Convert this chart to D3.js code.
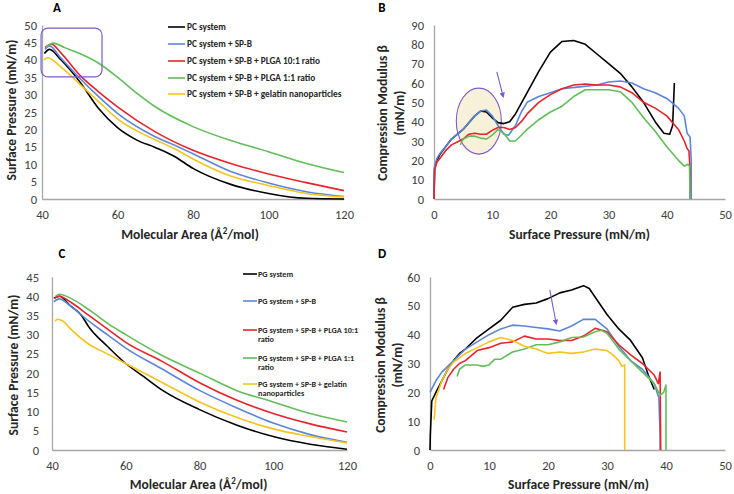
<!DOCTYPE html>
<html>
<head>
<meta charset="utf-8">
<script src="https://cdn.jsdelivr.net/npm/d3@7"></script>
<style>
  body { margin: 0; background: #fff; }
  svg { font-family: Carlito, Lato, "Open Sans", sans-serif; }
</style>
</head>
<body>
<svg id="chart" width="734" height="494"></svg>
<script>
// ---- colours and series names
const seriesColors = ["#000000", "#5b87d6", "#e8232b", "#62bd5a", "#f7c31c"];
const pcNames = ["PC system", "PC system + SP-B", "PC system + SP-B + PLGA 10:1 ratio",
                 "PC system + SP-B + PLGA 1:1 ratio", "PC system + SP-B + gelatin nanoparticles"];
const pgNames = [["PG system"], ["PG system + SP-B"], ["PG system + SP-B + PLGA 10:1", "ratio"],
                 ["PG system + SP-B + PLGA 1:1", "ratio"], ["PG system + SP-B + gelatin", "nanoparticles"]];

// ---- tick values
const areaTicks = [40, 60, 80, 100, 120];
const pressureTicks = [0, 10, 20, 30, 40, 50];
const aYTicks = [0, 5, 10, 15, 20, 25, 30, 35, 40, 45, 50];
const bYTicks = [0, 10, 20, 30, 40, 50, 60, 70, 80, 90];
const cYTicks = [0, 5, 10, 15, 20, 25, 30, 35, 40, 45];
const dYTicks = [0, 10, 20, 30, 40, 50, 60];

// ---- panel A : PC isotherms [area, pressure]
const pcSystem = [[40.6,41.8],[42,43],[45,40],[50,33.7],[55,26],[60,20.5],[65,17],[70,14.8],[75,12.3],[80,8.8],[90,4.2],[100,1.6],[110,0.2],[120,0]];
const pcSpb = [[40.8,43],[42,44],[45,40.5],[50,34.7],[55,29.4],[60,24.6],[70,17.9],[75,15.5],[80,13],[90,7.9],[100,4.6],[110,2.1],[120,0.7]];
const pcPlga10 = [[40.8,43.5],[42.5,44.5],[45,42],[50,35.6],[55,30.8],[60,26.5],[70,19.3],[80,14],[90,10.2],[100,7.2],[110,4.7],[120,2.4]];
const pcPlga1 = [[41,43.5],[43,44.8],[46,43.5],[50,41.8],[55,39],[60,35],[65,30.5],[70,26.5],[80,20.8],[90,16.8],[100,13.6],[110,10.2],[120,7.6]];
const pcGelatin = [[40.5,40],[41.5,40.6],[45,38],[50,33],[55,28],[60,23],[70,17],[75,14.5],[80,11.5],[90,6.6],[100,3.9],[110,1.6],[120,0.6]];

// ---- panel B : PC compression modulus [pressure, modulus]
const pcSystemB = [[0,0],[0.1,16],[0.5,20],[1,23],[2,27],[3,31],[5,36],[7,43],[8,45.5],[9,45],[10,42],[11,39.5],[12,39],[13,40],[14,44],[16,55],[18,66],[20,76],[22,81.5],[24,82],[26,80],[28,75],[30,70],[32,65],[34,58],[36,50],[38,40],[39.5,34],[40.5,33.5],[41,38],[41.3,60]];
const pcSpbB = [[0,0],[0.1,17],[0.5,21],[1,23.5],[2,27],[3,31],[5,36],[7,43],[8,45.5],[9,46],[10,43],[11,38],[12,33.5],[12.8,33],[14,38],[15,45],[16,50],[18,53],[20,55],[22,57],[25,58],[28,59],[30,60.5],[32,61],[34,60],[36,57],[38,55],[40,52],[42,47],[43,43],[43.5,34],[44,32],[44.2,20],[44.2,0]];
const pcPlga10B = [[0,0],[0.1,15],[0.5,19],[1,21],[2,25],[3,28],[4,29.5],[5,31],[6,33.5],[7,34],[8,33.5],[9,33.5],[10,35.5],[11,37],[12,37],[13,36],[14,37],[15,40],[16,44],[18,50],[20,54],[22,57],[24,59],[26,59.5],[28,59],[30,59],[32,58],[34,55],[36,50],[38,47],[40,43],[42,36],[43,30],[43.5,26],[43.8,25],[44,15],[44,0]];
const pcPlga1B = [[4.5,28],[5,31],[6,32.5],[7,32.5],[8,31.5],[9,31],[10,33],[11,36],[12,34],[13,30],[14,30],[15,33],[16,36],[18,41],[20,45],[22,48],[24,53],[26,56.5],[28,56.5],[30,56.5],[32,55.5],[34,50],[36,42],[38,35],[40,27],[42,20],[43,17],[43.6,18],[43.9,17],[44,0]];

// ---- panel C : PG isotherms [area, pressure]
const pgSystem = [[40.5,39.5],[42,40],[45,37.5],[48,35],[50,32],[55,27],[60,22.5],[65,19],[70,15.5],[80,10.5],[90,6.5],[100,3.5],[110,1.5],[120,0.2]];
const pgSpb = [[40.5,38.5],[42,39.3],[45,37.5],[50,33.5],[55,30],[60,26.5],[70,21],[80,15.5],[90,11],[100,7],[110,4],[120,2]];
const pgPlga10 = [[40.8,39.5],[42,40],[45,38.5],[50,35],[55,31.5],[60,28],[70,23],[80,17.5],[90,13],[100,9.5],[110,6.8],[120,4.7]];
const pgPlga1 = [[41,40],[42,40.5],[45,39.5],[50,36.5],[55,33],[60,30],[70,24.5],[80,20],[90,15.5],[100,12.5],[110,9.5],[120,7.3]];
const pgGelatin = [[40.8,33.5],[41.5,34],[43,33.5],[45,31.5],[50,27.5],[55,25],[60,22.5],[70,17.5],[80,12.5],[90,8.5],[100,5.5],[110,3.5],[120,1.8]];

// ---- panel D : PG compression modulus [pressure, modulus]
const pgSystemD = [[0,0],[0.05,5],[0.3,17],[1,20],[2,24],[3,28],[4,31],[5,33.5],[6,35],[8,39],[10,42],[12,45],[14,49.5],[16,50.5],[18,51],[20,52.5],[22,54.5],[24,55.5],[26,57],[27,56],[28,53],[30,47],[32,42],[34,38],[36,32],[37,26],[38,21]];
const pgSpbD = [[0,20],[1,24],[2,27],[4,31],[6,35],[8,37.5],[10,40],[12,42],[14,43.3],[16,43],[18,42.5],[20,42],[22,41.3],[24,43],[26,45.3],[28,45.3],[30,42],[32,36],[34,31],[36,28],[38,23],[38.8,18],[39,5],[39,0]];
const pgPlga10D = [[2.3,21],[3,25],[4,28],[5,30],[6,31],[8,34.5],[10,35.5],[12,37],[14,37.5],[16,39.5],[18,38.5],[20,38.5],[22,38],[24,38],[26,39.5],[28,42.2],[30,41],[32,36.5],[34,33],[36,30],[38,26],[38.7,23],[39,27],[39.1,0]];
const pgPlga1D = [[4.6,25.5],[5,28],[6,29.5],[8,29.5],[9,29],[10,29.5],[11,31.5],[12,31.5],[14,34],[16,35],[18,36.5],[20,36.5],[22,37.5],[24,39],[26,39.2],[28,41],[29,41.5],[30,40.5],[32,35],[34,31],[36,27],[38,23],[39,19],[39.6,20],[40,22.5],[40,0]];
const pgGelatinD = [[0.7,10.5],[1,18],[2,24],[3,28],[4,30.5],[6,33.5],[8,35.5],[10,37.5],[12,39],[14,38],[16,36],[18,35],[20,33.5],[22,34],[24,33.5],[26,34],[28,35],[30,34.5],[31,33],[32,31],[32.5,29],[33,29.5],[33,0]];

const svg = d3.select("#chart")
const purple = "#7b5ccc"

svg.append("defs").append("marker")
   .attr("id", "arrow")
   .attr("viewBox", "0 0 10 10")
   .attr("refX", 8).attr("refY", 5)
   .attr("markerWidth", 5).attr("markerHeight", 5)
   .attr("orient", "auto")
   .append("path")
   .attr("d", "M0,0 L10,5 L0,10 z")
   .attr("fill", purple)

// draws one panel: axes, titles and the series
const drawPanel = function(p) {
  const x = d3.scaleLinear().domain(p.xDomain).range(p.xRange)
  const y = d3.scaleLinear().domain(p.yDomain).range(p.yRange)
  const g = svg.append("g")
  // layer under the series (for the highlight ellipse)
  const under = g.append("g").attr("class", "under")

  // x axis
  const xAxis = g.append("g")
     .attr("transform", "translate(0," + p.yRange[0] + ")")
     .call(d3.axisBottom(x).tickValues(p.xTicks).tickSize(0).tickPadding(11))
  // y axis
  const yAxis = g.append("g")
     .attr("transform", "translate(" + p.xRange[0] + ",0)")
     .call(d3.axisLeft(y).tickValues(p.yTicks).tickSize(0).tickPadding(p.yPad))
  ;[xAxis, yAxis].forEach(a => {
    a.select(".domain").attr("stroke", "#a6a6a6").attr("stroke-width", 1.3)
    a.selectAll("text").attr("font-size", 12.5).attr("fill", "#404040")
      .attr("font-family", "Carlito, Lato, sans-serif")
  })

  // series
  const line = d3.line().x(d => x(d[0])).y(d => y(d[1])).curve(p.curve)
  p.series.forEach((s, i) => {
    if (!s) return
    g.append("path")
     .datum(s)
     .attr("d", line)
     .attr("fill", "none")
     .attr("stroke", seriesColors[i])
     .attr("stroke-width", 1.6)
     .attr("stroke-linejoin", "round")
  })

  // panel letter
  g.append("text")
   .attr("x", p.letterPos[0]).attr("y", p.letterPos[1])
   .attr("font-size", 13).attr("font-weight", "bold")
   .attr("text-anchor", "middle")
   .text(p.letter)

  // x title
  g.append("text")
   .attr("x", (p.xRange[0] + p.xRange[1]) / 2 + p.xTitleShift)
   .attr("y", p.xTitleY)
   .attr("text-anchor", "middle")
   .attr("font-size", 13.5).attr("font-weight", "bold").attr("fill", "#262626")
   .html(p.xTitle)

  // y title, one or two lines
  p.yTitle.forEach((t, i) => {
    g.append("text")
     .attr("transform", "translate(" + p.yTitleX[i] + "," + p.yTitleY + ") rotate(-90)")
     .attr("text-anchor", "middle")
     .attr("font-size", 13.5).attr("font-weight", "bold").attr("fill", "#262626")
     .text(t)
  })
  return {x: x, y: y, g: g, under: under}
}

const areaTitle = "Molecular Area (Å<tspan dy='-5' font-size='9'>2</tspan><tspan dy='5'>/mol)</tspan>"

// PANEL A
const pA = drawPanel({
  letter: "A", letterPos: [57, 12],
  xDomain: [40, 120], xRange: [42, 344], xTicks: areaTicks,
  yDomain: [0, 50], yRange: [199, 25], yTicks: aYTicks, yPad: 5,
  series: [pcSystem, pcSpb, pcPlga10, pcPlga1, pcGelatin],
  curve: d3.curveMonotoneX,
  xTitle: areaTitle, xTitleY: 239, xTitleShift: -3,
  yTitle: ["Surface Pressure (mN/m)"], yTitleX: [16], yTitleY: 110
})
pA.g.append("rect")
    .attr("x", pA.x(39.75)).attr("y", pA.y(49.1))
    .attr("width", pA.x(55.9) - pA.x(39.75)).attr("height", pA.y(35.1) - pA.y(49.1))
    .attr("rx", 7)
    .attr("fill", "none").attr("stroke", purple).attr("stroke-width", 1.2)

// legend A
const legA = svg.append("g").attr("transform", "translate(168,0)")
pcNames.forEach((n, i) => {
  const yy = [27, 44, 61, 78, 94][i]
  legA.append("line").attr("x1", 0).attr("x2", 17).attr("y1", yy).attr("y2", yy)
      .attr("stroke", seriesColors[i]).attr("stroke-width", 1.6)
  legA.append("text").attr("x", 19).attr("y", yy + 3.2)
      .attr("font-size", 9.3).attr("font-weight", "bold").attr("fill", "#262626")
      .text(n)
})

// PANEL B
const pB = drawPanel({
  letter: "B", letterPos: [382, 12],
  xDomain: [0, 50], xRange: [434, 725], xTicks: pressureTicks,
  yDomain: [0, 90], yRange: [199, 25], yTicks: bYTicks, yPad: 10,
  series: [pcSystemB, pcSpbB, pcPlga10B, pcPlga1B, null],
  curve: d3.curveLinear,
  xTitle: "Surface Pressure (mN/m)", xTitleY: 239, xTitleShift: 0,
  yTitle: ["Compression Modulus β", "(mN/m)"], yTitleX: [387, 404], yTitleY: 113
})
pB.under.append("ellipse")
    .attr("cx", pB.x(7.7)).attr("cy", pB.y(40.3))
    .attr("rx", 22.5).attr("ry", 33)
    .attr("fill", "#f6f1d8").attr("stroke", purple).attr("stroke-width", 1.1)
pB.g.append("line")
    .attr("x1", pB.x(10.8)).attr("y1", pB.y(65.7))
    .attr("x2", pB.x(11.9)).attr("y2", pB.y(52.8))
    .attr("stroke", purple).attr("stroke-width", 1.1)
    .attr("marker-end", "url(#arrow)")

// PANEL C
drawPanel({
  letter: "C", letterPos: [62, 258],
  xDomain: [40, 120], xRange: [52, 347], xTicks: areaTicks,
  yDomain: [0, 45], yRange: [450, 277], yTicks: cYTicks, yPad: 13,
  series: [pgSystem, pgSpb, pgPlga10, pgPlga1, pgGelatin],
  curve: d3.curveMonotoneX,
  xTitle: areaTitle, xTitleY: 489, xTitleShift: -1,
  yTitle: ["Surface Pressure (mN/m)"], yTitleX: [18], yTitleY: 365
})

// legend C
const legC = svg.append("g").attr("transform", "translate(243,0)")
pgNames.forEach((n, i) => {
  const yy = [274, 301, 330, 358, 384][i]
  legC.append("line").attr("x1", 0).attr("x2", 14).attr("y1", yy).attr("y2", yy)
      .attr("stroke", seriesColors[i]).attr("stroke-width", 1.6)
  n.forEach((t, j) => {
    legC.append("text").attr("x", 15).attr("y", yy + 2.8 + j * 9)
        .attr("font-size", 8.2).attr("font-weight", "bold").attr("fill", "#262626")
        .text(t)
  })
})

// PANEL D
const pD = drawPanel({
  letter: "D", letterPos: [382, 258],
  xDomain: [0, 50], xRange: [430, 725], xTicks: pressureTicks,
  yDomain: [0, 60], yRange: [450, 277], yTicks: dYTicks, yPad: 10,
  series: [pgSystemD, pgSpbD, pgPlga10D, pgPlga1D, pgGelatinD],
  curve: d3.curveLinear,
  xTitle: "Surface Pressure (mN/m)", xTitleY: 489, xTitleShift: 1,
  yTitle: ["Compression Modulus β", "(mN/m)"], yTitleX: [385, 402], yTitleY: 365
})
pD.g.append("line")
    .attr("x1", pD.x(20.3)).attr("y1", pD.y(55.5))
    .attr("x2", pD.x(21.4)).attr("y2", pD.y(43.7))
    .attr("stroke", purple).attr("stroke-width", 1.1)
    .attr("marker-end", "url(#arrow)")
</script>
</body>
</html>
